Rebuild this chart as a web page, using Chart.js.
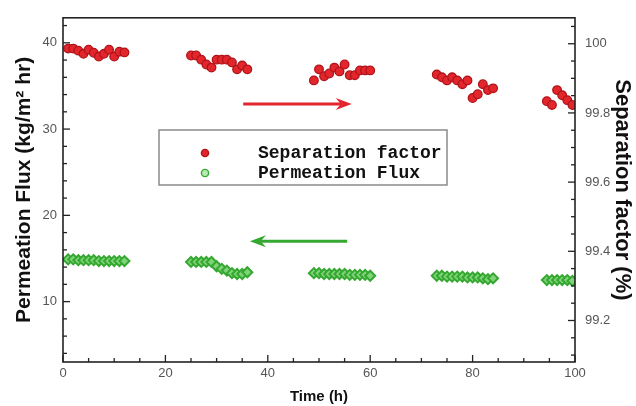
<!DOCTYPE html>
<html>
<head>
<meta charset="utf-8">
<script src="https://cdn.jsdelivr.net/npm/chart.js@4.4.1/dist/chart.umd.min.js"></script>
<style>
    html, body { margin: 0; padding: 0; background: #fff; }
    #wrap { width: 636px; height: 406px; }
</style>
</head>
<body>
<div id="wrap"><canvas id="fluxChart" width="636" height="406"></canvas></div>
<script>
// Measurement times (h), five runs
const runTime = [
    1, 2, 3, 4, 5, 6, 7, 8, 9, 10, 11, 12,
    25, 26, 27, 28, 29, 30, 31, 32, 33, 34, 35, 36,
    49, 50, 51, 52, 53, 54, 55, 56, 57, 58, 59, 60,
    73, 74, 75, 76, 77, 78, 79, 80, 81, 82, 83, 84,
    94.5, 95.5, 96.5, 97.5, 98.5, 99.5
];

// Separation factor (%), right axis
const sepValues = [
    99.986, 99.986, 99.980, 99.971, 99.983, 99.974, 99.963, 99.971, 99.983, 99.963, 99.977, 99.975,
    99.966, 99.966, 99.954, 99.940, 99.931, 99.954, 99.954, 99.954, 99.946, 99.926, 99.937, 99.926,
    99.894, 99.926, 99.906, 99.914, 99.931, 99.920, 99.940, 99.909, 99.909, 99.923, 99.923, 99.923,
    99.911, 99.903, 99.894, 99.903, 99.894, 99.883, 99.894, 99.843, 99.854, 99.883, 99.866, 99.871,
    99.834, 99.823, 99.866, 99.851, 99.837, 99.823
];

// Permeation flux (kg/m2 hr), left axis
const fluxValues = [
    14.9, 14.9, 14.8, 14.8, 14.8, 14.8, 14.7, 14.7, 14.7, 14.7, 14.7, 14.7,
    14.6, 14.6, 14.6, 14.6, 14.6, 14.1, 13.8, 13.6, 13.3, 13.2, 13.2, 13.4,
    13.3, 13.3, 13.2, 13.2, 13.2, 13.2, 13.2, 13.1, 13.1, 13.1, 13.1, 13.0,
    13.0, 13.0, 12.9, 12.9, 12.9, 12.9, 12.8, 12.8, 12.8, 12.7, 12.6, 12.7,
    12.5, 12.5, 12.5, 12.5, 12.5, 12.4
];

const timeTicks = [0, 20, 40, 60, 80, 100];
const fluxTicks = [10, 20, 30, 40];
const sepTicks = [99.2, 99.4, 99.6, 99.8, 100];

// arrows pointing to each series' axis: [xStart, xEnd, flux-axis y]
const sepArrow = [35.2, 56.4, 32.9];
const fluxArrow = [55.5, 36.5, 17.0];

const RED = '#e2262c';
const RED_DARK = '#b0141a';
const GREEN = '#36a832';
const GREEN_FILL = '#7ed578';

const tickFont = { family: 'Liberation Sans, Arial, sans-serif', size: 13 };

// frame, inward ticks, arrows and legend box
const decorations = {
    id: 'decorations',
    afterDatasetsDraw(chart) {
        const { ctx, scales } = chart;
        const arrow = (spec, color) => {
            const x0 = scales.x.getPixelForValue(spec[0]);
            const x1 = scales.x.getPixelForValue(spec[1]);
            const y = scales.y.getPixelForValue(spec[2]);
            const dir = Math.sign(x1 - x0);
            ctx.save();
            ctx.strokeStyle = color;
            ctx.fillStyle = color;
            ctx.lineWidth = 3;
            ctx.beginPath();
            ctx.moveTo(x0, y);
            ctx.lineTo(x1 - dir * 10, y);
            ctx.stroke();
            ctx.beginPath();
            ctx.moveTo(x1, y);
            ctx.lineTo(x1 - dir * 16, y - 6);
            ctx.lineTo(x1 - dir * 11, y);
            ctx.lineTo(x1 - dir * 16, y + 6);
            ctx.closePath();
            ctx.fill();
            ctx.restore();
        };
        arrow(sepArrow, RED);
        arrow(fluxArrow, GREEN);

        // legend box
        ctx.save();
        ctx.strokeStyle = '#8a8a8a';
        ctx.lineWidth = 1.5;
        ctx.strokeRect(159, 130, 288, 55);
        ctx.font = 'bold 18px "Liberation Mono", "Courier New", monospace';
        ctx.fillStyle = '#111';
        ctx.textBaseline = 'middle';
        ctx.fillText('Separation factor', 258, 153);
        ctx.fillText('Permeation Flux', 258, 173);
        ctx.lineWidth = 1.4;
        ctx.beginPath();
        ctx.arc(205, 153, 3.6, 0, Math.PI * 2);
        ctx.fillStyle = RED;
        ctx.strokeStyle = RED_DARK;
        ctx.fill();
        ctx.stroke();
        ctx.beginPath();
        ctx.arc(205, 173, 3.6, 0, Math.PI * 2);
        ctx.fillStyle = '#b8eab4';
        ctx.strokeStyle = GREEN;
        ctx.fill();
        ctx.stroke();
        ctx.restore();
    },
    afterDraw(chart) {
        const { ctx, chartArea: a, scales } = chart;
        ctx.save();
        ctx.strokeStyle = '#222';
        ctx.lineWidth = 1.3;
        const vTicks = (scale, x, dir, step, majorStep) => {
            const first = Math.ceil(scale.min / step - 1e-6);
            const last = Math.floor(scale.max / step + 1e-6);
            for (let i = first; i <= last; i++) {
                const v = i * step;
                const y = scale.getPixelForValue(v);
                const major = Math.abs(v / majorStep - Math.round(v / majorStep)) < 1e-6;
                const len = major ? 7 : 4;
                ctx.beginPath();
                ctx.moveTo(x, y);
                ctx.lineTo(x + dir * len, y);
                ctx.stroke();
            }
        };
        vTicks(scales.y, a.left, 1, 2, 10);
        vTicks(scales.y1, a.right, -1, 0.05, 0.2);
        for (let v = 0; v <= 100; v += 5) {
            const x = scales.x.getPixelForValue(v);
            const len = v % 20 === 0 ? 7 : 4;
            ctx.beginPath();
            ctx.moveTo(x, a.bottom);
            ctx.lineTo(x, a.bottom - len);
            ctx.stroke();
        }
        ctx.lineWidth = 1.6;
        ctx.strokeRect(a.left, a.top, a.right - a.left, a.bottom - a.top);
        ctx.restore();
    }
};

new Chart(document.getElementById('fluxChart'), {
    type: 'scatter',
    data: {
        datasets: [
            {
                label: 'Separation factor',
                data: runTime.map((t, i) => ({ x: t, y: sepValues[i] })),
                yAxisID: 'y1',
                pointStyle: 'circle',
                pointRadius: 4.3,
                pointBackgroundColor: RED,
                pointBorderColor: RED_DARK,
                pointBorderWidth: 1.3
            },
            {
                label: 'Permeation Flux',
                data: runTime.map((t, i) => ({ x: t, y: fluxValues[i] })),
                yAxisID: 'y',
                pointStyle: 'rectRot',
                pointRadius: 5,
                pointBackgroundColor: GREEN_FILL,
                pointBorderColor: GREEN,
                pointBorderWidth: 2
            }
        ]
    },
    options: {
        responsive: false,
        animation: false,
        devicePixelRatio: 1,
        layout: { padding: { top: 15, left: 0, right: 0, bottom: 0 } },
        plugins: {
            legend: { display: false },
            tooltip: { enabled: false }
        },
        scales: {
            x: {
                type: 'linear',
                min: 0,
                max: 100,
                afterBuildTicks: s => { s.ticks = timeTicks.map(v => ({ value: v })); },
                afterFit: s => { s.height = 44; },
                ticks: { font: tickFont, color: '#555', padding: 4, maxRotation: 0 },
                grid: { display: false, drawTicks: false },
                border: { display: false },
                title: {
                    display: true,
                    text: 'Time (h)',
                    color: '#111',
                    font: { family: 'Liberation Sans, Arial, sans-serif', size: 15, weight: 'bold' },
                    padding: { top: 0, bottom: 0 }
                }
            },
            y: {
                type: 'linear',
                position: 'left',
                min: 3,
                max: 42.9,
                afterBuildTicks: s => { s.ticks = fluxTicks.map(v => ({ value: v })); },
                afterFit: s => { s.width = 63; },
                ticks: { font: tickFont, color: '#555', padding: 6 },
                grid: { display: false, drawTicks: false },
                border: { display: false },
                title: {
                    display: true,
                    text: 'Permeation Flux (kg/m\u00b2 hr)',
                    color: '#111',
                    font: { family: 'Liberation Sans, Arial, sans-serif', size: 21, weight: 'bold' },
                    padding: { top: 12, bottom: 0 }
                }
            },
            y1: {
                type: 'linear',
                position: 'right',
                min: 99.08,
                max: 100.075,
                afterBuildTicks: s => { s.ticks = sepTicks.map(v => ({ value: v })); },
                afterFit: s => { s.width = 61; },
                ticks: {
                    font: tickFont,
                    color: '#555',
                    padding: 10,
                    callback: v => String(Number(v.toFixed(1)))
                },
                grid: { display: false, drawTicks: false },
                border: { display: false },
                title: {
                    display: true,
                    text: 'Separation factor (%)',
                    color: '#111',
                    font: { family: 'Liberation Sans, Arial, sans-serif', size: 22, weight: 'bold' },
                    padding: { top: 1, bottom: 0 }
                }
            }
        }
    },
    plugins: [decorations]
});
</script>
</body>
</html>
